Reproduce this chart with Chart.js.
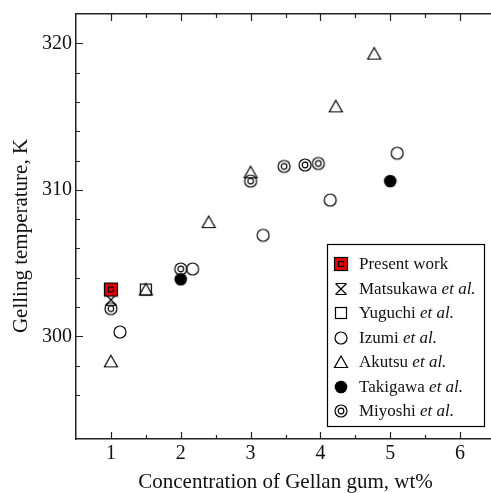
<!DOCTYPE html>
<html>
<head>
<meta charset="utf-8">
<title>Gelling temperature of gellan gum</title>
<script src="https://cdn.jsdelivr.net/npm/chart.js@4.4.1/dist/chart.umd.min.js"></script>
<style>
  html, body { margin: 0; padding: 0; background: #fff; overflow: hidden; }
  #wrap { width: 491px; height: 493px; overflow: hidden; }
</style>
</head>
<body>
<div id="wrap"><canvas id="gelChart" width="504" height="493"></canvas></div>
<script>
// values (x: wt%, y: K)
const presentX = [1];
const presentY = [303.2];
const matsukawaX = [1];
const matsukawaY = [302.5];
const yuguchiX = [1.5];
const yuguchiY = [303.2];
const izumiX = [1.13, 2.17, 3.18, 4.14, 5.1];
const izumiY = [300.3, 304.6, 306.9, 309.3, 312.5];
const akutsuX = [1, 1.5, 2.4, 3, 4.22, 4.77];
const akutsuY = [298.3, 303.2, 307.8, 311.2, 315.7, 319.3];
const takigawaX = [2, 5];
const takigawaY = [303.9, 310.6];
const miyoshiX = [1, 2, 3, 3.48, 3.78, 3.97];
const miyoshiY = [301.9, 304.6, 310.6, 311.6, 311.7, 311.8];

const seriesNames = ['Present work', 'Matsukawa', 'Yuguchi', 'Izumi', 'Akutsu', 'Takigawa', 'Miyoshi'];
const etAl = [false, true, true, true, true, true, true];

const xTickLabels = [1, 2, 3, 4, 5, 6];
const yTickLabels = [300, 310, 320];

const serif = '"Liberation Serif", "Times New Roman", serif';
const ink = '#111';

function toPoints(xs, ys) {
  return xs.map((x, i) => ({ x: x, y: ys[i] }));
}

// marker glyphs, drawn once and used as point styles
function makeMarker(draw) {
  const c = document.createElement('canvas');
  c.width = 16;
  c.height = 16;
  const g = c.getContext('2d');
  g.lineWidth = 1.2;
  g.strokeStyle = '#000';
  g.fillStyle = '#000';
  draw(g);
  return c;
}

const markers = [
  makeMarker(g => {
    g.fillStyle = '#e80000';
    g.fillRect(1, 1, 14, 14);
    g.strokeRect(1.5, 1.5, 13, 13);
    g.strokeRect(5.5, 5.5, 5, 5);
  }),
  makeMarker(g => {
    g.beginPath();
    g.moveTo(2.5, 2.5); g.lineTo(13.5, 2.5);
    g.moveTo(2.5, 13.5); g.lineTo(13.5, 13.5);
    g.moveTo(2.5, 2.5); g.lineTo(13.5, 13.5);
    g.moveTo(13.5, 2.5); g.lineTo(2.5, 13.5);
    g.stroke();
  }),
  makeMarker(g => {
    g.strokeRect(2.5, 2.5, 11, 11);
  }),
  makeMarker(g => {
    g.beginPath();
    g.arc(8, 8, 6, 0, Math.PI * 2);
    g.stroke();
  }),
  makeMarker(g => {
    g.beginPath();
    g.moveTo(8, 2);
    g.lineTo(14.5, 13.5);
    g.lineTo(1.5, 13.5);
    g.closePath();
    g.stroke();
  }),
  makeMarker(g => {
    g.beginPath();
    g.arc(8, 8, 6.3, 0, Math.PI * 2);
    g.fill();
  }),
  makeMarker(g => {
    g.beginPath();
    g.arc(8, 8, 6, 0, Math.PI * 2);
    g.stroke();
    g.beginPath();
    g.arc(8, 8, 2.8, 0, Math.PI * 2);
    g.stroke();
  })
];

const seriesData = [
  toPoints(presentX, presentY),
  toPoints(matsukawaX, matsukawaY),
  toPoints(yuguchiX, yuguchiY),
  toPoints(izumiX, izumiY),
  toPoints(akutsuX, akutsuY),
  toPoints(takigawaX, takigawaY),
  toPoints(miyoshiX, miyoshiY)
];

const datasets = seriesNames.map((name, i) => ({
  label: name,
  data: seriesData[i],
  pointStyle: markers[i],
  pointRadius: 8,
  showLine: false
}));

// inward tick marks on left, bottom and top axes
const innerTicks = {
  id: 'innerTicks',
  beforeDatasetsDraw(chart) {
    const { ctx, chartArea } = chart;
    const xs = chart.scales.x;
    const ys = chart.scales.y;
    ctx.save();
    ctx.strokeStyle = '#222';
    ctx.lineWidth = 1.2;
    ctx.beginPath();
    xs.ticks.forEach(t => {
      if (t.value <= xs.min || t.value >= xs.max) return;
      const px = Math.round(xs.getPixelForValue(t.value)) + 0.5;
      const len = Number.isInteger(t.value) ? 7 : 4;
      ctx.moveTo(px, chartArea.bottom);
      ctx.lineTo(px, chartArea.bottom - len);
      ctx.moveTo(px, chartArea.top);
      ctx.lineTo(px, chartArea.top + len);
    });
    ys.ticks.forEach(t => {
      if (t.value <= ys.min || t.value >= ys.max || t.value % 2 !== 0) return;
      const py = Math.round(ys.getPixelForValue(t.value)) + 0.5;
      const len = t.value % 10 === 0 ? 7 : 4;
      ctx.moveTo(chartArea.left, py);
      ctx.lineTo(chartArea.left + len, py);
    });
    ctx.stroke();
    ctx.restore();
  }
};

// y-axis title, sat a little below the middle as in the original figure
const yTitle = {
  id: 'yTitle',
  afterDraw(chart) {
    const { ctx } = chart;
    ctx.save();
    ctx.translate(21, 236);
    ctx.rotate(-Math.PI / 2);
    ctx.font = '21px ' + serif;
    ctx.fillStyle = ink;
    ctx.textAlign = 'center';
    ctx.textBaseline = 'middle';
    ctx.fillText('Gelling temperature, K', 0, 0);
    ctx.restore();
  }
};

// boxed legend with italic "et al."
const paperLegend = {
  id: 'paperLegend',
  afterDatasetsDraw(chart) {
    const { ctx } = chart;
    const box = { left: 327, top: 244, right: 484, bottom: 426 };
    ctx.save();
    ctx.fillStyle = '#fff';
    ctx.fillRect(box.left, box.top, box.right - box.left, box.bottom - box.top);
    ctx.strokeStyle = '#000';
    ctx.lineWidth = 1.2;
    ctx.strokeRect(box.left + 0.5, box.top + 0.5, box.right - box.left, box.bottom - box.top);
    ctx.textBaseline = 'middle';
    ctx.fillStyle = ink;
    chart.data.datasets.forEach((ds, i) => {
      const y = 264 + i * 24.5;
      const m = ds.pointStyle;
      ctx.drawImage(m, 341 - m.width / 2, Math.round(y - m.height / 2));
      ctx.font = '17px ' + serif;
      ctx.fillText(ds.label, 359, y + 1);
      if (etAl[i]) {
        const w = ctx.measureText(ds.label + ' ').width;
        ctx.font = 'italic 17px ' + serif;
        ctx.fillText('et al.', 359 + w, y + 1);
      }
    });
    ctx.restore();
  }
};

const axisBorder = { display: true, color: '#222', width: 1.5 };

new Chart(document.getElementById('gelChart').getContext('2d'), {
  type: 'scatter',
  data: { datasets: datasets },
  plugins: [innerTicks, paperLegend, yTitle],
  options: {
    responsive: false,
    animation: false,
    events: [],
    layout: { padding: { top: 14, left: 0, right: 0, bottom: 0 } },
    plugins: {
      legend: { display: false },
      tooltip: { enabled: false }
    },
    scales: {
      x: {
        type: 'linear',
        position: 'bottom',
        min: 0.5,
        max: 6.5,
        border: axisBorder,
        grid: { drawOnChartArea: false, drawTicks: false },
        ticks: {
          stepSize: 0.5,
          autoSkip: false,
          maxRotation: 0,
          padding: 3,
          color: ink,
          font: { family: serif, size: 20 },
          callback: v => (xTickLabels.includes(v) ? String(v) : '')
        },
        title: {
          display: true,
          text: 'Concentration of Gellan gum, wt%',
          color: ink,
          font: { family: serif, size: 21, lineHeight: 1 },
          padding: { top: 0, bottom: 0 }
        },
        afterFit: s => {
          s.height = 54;
          s.paddingLeft = 0;
          s.paddingRight = 0;
        }
      },
      xTop: {
        type: 'linear',
        position: 'top',
        min: 0.5,
        max: 6.5,
        border: axisBorder,
        grid: { drawOnChartArea: false, drawTicks: false },
        ticks: { display: false },
        afterFit: s => {
          s.height = 0;
        }
      },
      y: {
        type: 'linear',
        position: 'left',
        min: 293,
        max: 322,
        border: axisBorder,
        grid: { drawOnChartArea: false, drawTicks: false },
        ticks: {
          stepSize: 2,
          autoSkip: false,
          padding: 4,
          color: ink,
          font: { family: serif, size: 20 },
          callback: v => (yTickLabels.includes(v) ? String(v) : '')
        },
        title: { display: false },
        afterFit: s => {
          s.width = 76;
          s.paddingTop = 0;
          s.paddingBottom = 0;
        }
      }
    }
  }
});
</script>
</body>
</html>
